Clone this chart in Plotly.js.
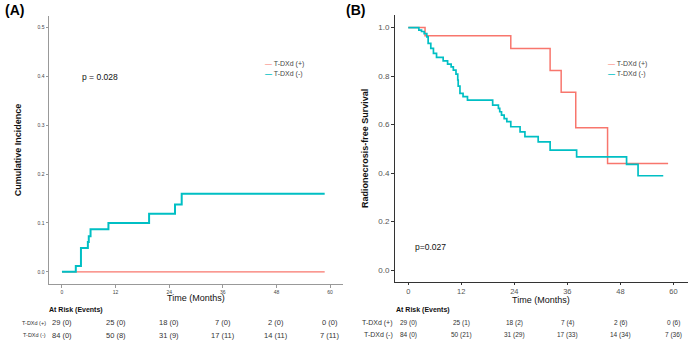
<!DOCTYPE html>
<html>
<head>
<meta charset="utf-8">
<script src="https://cdn.plot.ly/plotly-3.0.1.min.js"></script>
<style>html,body{margin:0;padding:0;background:#fff}#chart{width:690px;height:340px}</style>
</head>
<body>
<div id="chart"></div>
<script>
// Panel A: cumulative incidence
const aPosTime = [0, 58.8];
const aPosVal = [0, 0];
const aNegTime = [0, 3.1, 4.25, 5.8, 6.0, 6.4, 10.4, 19.5, 25.3, 26.8, 58.8];
const aNegVal = [0, 0.012, 0.049, 0.061, 0.073, 0.087, 0.100, 0.119, 0.138, 0.160, 0.160];

// Panel B: radionecrosis-free survival
const bPosTime = [0, 3.8, 23.2, 32.1, 34.6, 37.9, 45.1, 58.8];
const bPosVal = [1.0, 0.966, 0.914, 0.823, 0.733, 0.587, 0.440, 0.440];
const bNegTime = [0, 2.4, 3.0, 3.6, 4.2, 4.5, 5.1, 5.7, 6.4, 7.9, 8.9, 9.7, 10.2, 10.8, 11.2, 11.3, 11.7, 12.4, 13.4,
  19.1, 20.4, 20.7, 21.1, 21.7, 22.3, 23.2, 25.3, 26.4, 29.4, 32.1, 38.1, 49.4, 52.0, 57.7];
const bNegVal = [1.0, 0.990, 0.984, 0.975, 0.962, 0.935, 0.914, 0.894, 0.877, 0.863, 0.849, 0.838, 0.825, 0.808, 0.784, 0.759, 0.729, 0.715, 0.701,
  0.680, 0.667, 0.653, 0.639, 0.625, 0.612, 0.591, 0.570, 0.550, 0.529, 0.495, 0.467, 0.436, 0.389, 0.389];

// Risk table
const riskTimes = [0, 12, 24, 36, 48, 60];
const groupLabels = ["T-DXd (+)", "T-DXd (-)"];
const riskAPos = ["29 (0)", "25 (0)", "18 (0)", "7 (0)", "2 (0)", "0 (0)"];
const riskANeg = ["84 (0)", "50 (8)", "31 (9)", "17 (11)", "14 (11)", "7 (11)"];
const riskBPos = ["29 (0)", "25 (1)", "18 (2)", "7 (4)", "2 (6)", "0 (6)"];
const riskBNeg = ["84 (0)", "50 (21)", "31 (29)", "17 (33)", "14 (34)", "7 (36)"];

const RED = '#F8766D', CYAN = '#00BFC4';
const FONT = 'Liberation Sans, Arial, sans-serif';

const traces = [
  {x: aPosTime, y: aPosVal, xaxis: 'x', yaxis: 'y', mode: 'lines', line: {shape: 'hv', color: RED, width: 1.3}, name: groupLabels[0], showlegend: false},
  {x: aNegTime, y: aNegVal, xaxis: 'x', yaxis: 'y', mode: 'lines', line: {shape: 'hv', color: CYAN, width: 2}, name: groupLabels[1], showlegend: false},
  {x: bPosTime, y: bPosVal, xaxis: 'x2', yaxis: 'y2', mode: 'lines', line: {shape: 'hv', color: RED, width: 1.5}, name: groupLabels[0], showlegend: false},
  {x: bNegTime, y: bNegVal, xaxis: 'x2', yaxis: 'y2', mode: 'lines', line: {shape: 'hv', color: CYAN, width: 1.7}, name: groupLabels[1], showlegend: false}
];

const ann = [];
function txt(o) { ann.push(Object.assign({showarrow: false, font: {family: FONT, size: 7, color: '#222'}}, o)); }

// panel labels
txt({text: '<b>(A)</b>', xref: 'paper', yref: 'paper', x: 3/690, y: 1 - 10/340, xanchor: 'left', yanchor: 'middle', font: {family: FONT, size: 14, color: '#000'}});
txt({text: '<b>(B)</b>', xref: 'paper', yref: 'paper', x: 344/690, y: 1 - 10/340, xanchor: 'left', yanchor: 'middle', font: {family: FONT, size: 14, color: '#000'}});

// x-axis titles
txt({text: 'Time (Months)', xref: 'x', yref: 'paper', x: 30, y: 1 - 298/340, xanchor: 'center', yanchor: 'middle', font: {family: FONT, size: 9, color: '#111'}});
txt({text: 'Time (Months)', xref: 'x2', yref: 'paper', x: 30, y: 1 - 299.5/340, xanchor: 'center', yanchor: 'middle', font: {family: FONT, size: 9, color: '#111'}});

// p-values
txt({text: 'p = 0.028', xref: 'x', yref: 'y', x: 8.6, y: 0.4, font: {family: FONT, size: 8.5, color: '#111'}});
txt({text: 'p=0.027', xref: 'x2', yref: 'y2', x: 5.0, y: 0.095, font: {family: FONT, size: 8.5, color: '#111'}});

// legends
function legend(xpx, ypx, size) {
  txt({text: '<span style="color:' + RED + '">—</span> ' + groupLabels[0], xref: 'paper', yref: 'paper', x: xpx/690, y: 1 - ypx/340, xanchor: 'left', yanchor: 'middle', font: {family: FONT, size: size, color: '#444'}});
  txt({text: '<span style="color:' + CYAN + '"><b>—</b></span> ' + groupLabels[1], xref: 'paper', yref: 'paper', x: xpx/690, y: 1 - (ypx + 10)/340, xanchor: 'left', yanchor: 'middle', font: {family: FONT, size: size, color: '#444'}});
}
legend(263, 64, 7);
legend(606, 64, 7);

// risk tables
function riskTable(xa, labelX, headerX, pos, neg, labelSize, valSize) {
  txt({text: '<b>At Risk (Events)</b>', xref: 'paper', yref: 'paper', x: headerX/690, y: 1 - 309.5/340, xanchor: 'left', yanchor: 'middle', font: {family: FONT, size: 7, color: '#111'}});
  txt({text: groupLabels[0], xref: 'paper', yref: 'paper', x: labelX/690, y: 1 - 322.5/340, xanchor: 'right', yanchor: 'middle', font: {family: FONT, size: labelSize, color: '#333'}});
  txt({text: groupLabels[1], xref: 'paper', yref: 'paper', x: labelX/690, y: 1 - 335/340, xanchor: 'right', yanchor: 'middle', font: {family: FONT, size: labelSize, color: '#333'}});
  for (let i = 0; i < riskTimes.length; i++) {
    txt({text: pos[i], xref: xa, yref: 'paper', x: riskTimes[i], y: 1 - 322.5/340, xanchor: 'center', yanchor: 'middle', font: {family: FONT, size: valSize, color: '#333'}});
    txt({text: neg[i], xref: xa, yref: 'paper', x: riskTimes[i], y: 1 - 335/340, xanchor: 'center', yanchor: 'middle', font: {family: FONT, size: valSize, color: '#333'}});
  }
}
riskTable('x', 48, 47, riskAPos, riskANeg, 5.5, 7.5);
riskTable('x2', 395, 394, riskBPos, riskBNeg, 7, 6.5);

const axBase = {showgrid: false, zeroline: false, showline: true, ticks: 'outside', mirror: false, fixedrange: true};

const layout = {
  width: 690, height: 340,
  margin: {l: 0, r: 0, t: 0, b: 0},
  paper_bgcolor: '#fff', plot_bgcolor: '#fff',
  showlegend: false,
  font: {family: FONT},
  xaxis: Object.assign({}, axBase, {
    domain: [49/690, 343/690], range: [-2.9, 62.9], tickvals: riskTimes, ticktext: riskTimes.map(String),
    linecolor: '#999', linewidth: 1, tickcolor: '#999', ticklen: 2.5,
    tickfont: {family: FONT, size: 5, color: '#444'}
  }),
  yaxis: Object.assign({}, axBase, {
    domain: [56/340, 324/340], range: [-0.025, 0.524], tickvals: [0, 0.1, 0.2, 0.3, 0.4, 0.5], ticktext: ['0.0', '0.1', '0.2', '0.3', '0.4', '0.5'],
    linecolor: '#999', linewidth: 1, tickcolor: '#999', ticklen: 2.5,
    tickfont: {family: FONT, size: 5, color: '#444'},
    title: {text: '<b>Cumulative Incidence</b>', font: {family: FONT, size: 9, color: '#111'}, standoff: 14}
  }),
  xaxis2: Object.assign({}, axBase, {
    anchor: 'y2',
    domain: [395/690, 688/690], range: [-3.0, 63.3], tickvals: riskTimes, ticktext: riskTimes.map(String),
    linecolor: '#333', linewidth: 1, tickcolor: '#333', ticklen: 2,
    tickfont: {family: FONT, size: 7.5, color: '#555'}
  }),
  yaxis2: Object.assign({}, axBase, {
    anchor: 'x2',
    domain: [58.3/340, 325/340], range: [-0.048, 1.052], tickvals: [0, 0.2, 0.4, 0.6, 0.8, 1.0], ticktext: ['0.0', '0.2', '0.4', '0.6', '0.8', '1.0'],
    linecolor: '#333', linewidth: 1, tickcolor: '#333', ticklen: 3,
    tickfont: {family: FONT, size: 8, color: '#555'},
    title: {text: '<b>Radionecrosis-free Survival</b>', font: {family: FONT, size: 9, color: '#111'}, standoff: 8}
  }),
  annotations: ann
};

Plotly.newPlot('chart', traces, layout, {displayModeBar: false, staticPlot: true});
</script>
</body>
</html>
